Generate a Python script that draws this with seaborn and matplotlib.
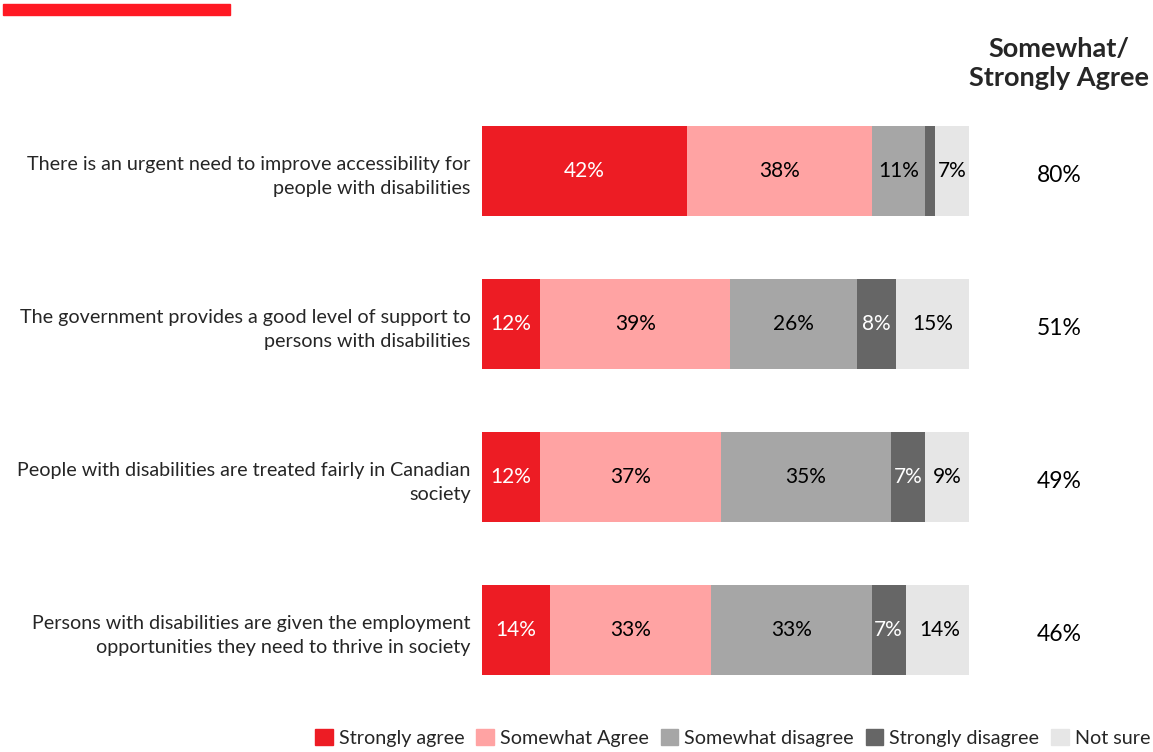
import matplotlib
matplotlib.use("Agg")
import matplotlib.pyplot as plt
import matplotlib.patches as mpatches
import numpy as np
import pandas as pd
import seaborn as sns

statements = [
    "There is an urgent need to improve accessibility for\npeople with disabilities",
    "The government provides a good level of support to\npersons with disabilities",
    "People with disabilities are treated fairly in Canadian\nsociety",
    "Persons with disabilities are given the employment\nopportunities they need to thrive in society",
]
strongly_agree = [42, 12, 12, 14]
somewhat_agree = [38, 39, 37, 33]
somewhat_disagree = [11, 26, 35, 33]
strongly_disagree = [2, 8, 7, 7]
not_sure = [7, 15, 9, 14]
net_agree = [80, 51, 49, 46]

responses = ["Strongly agree", "Somewhat Agree", "Somewhat disagree",
             "Strongly disagree", "Not sure"]
colors = ["#ED1C24", "#FFA3A3", "#A6A6A6", "#666666", "#E6E6E6"]
label_colors = ["white", "black", "black", "white", "black"]

series = [strongly_agree, somewhat_agree, somewhat_disagree,
          strongly_disagree, not_sure]

sns.set_theme(style="white")
plt.rcParams["font.family"] = ["Lato", "DejaVu Sans"]

fig = plt.figure(figsize=(11.53, 7.52), dpi=100)
ax = fig.add_axes([0.418, 0.0605, 0.4224, 0.8138])

df = pd.DataFrame({"statement": statements})
cum = np.zeros(len(statements))
cums = []
for vals in series:
    start = cum.copy()
    cum = cum + np.array(vals)
    cums.append((start, cum.copy()))

# Stack by drawing cumulative totals from the outermost segment inward
for i in reversed(range(len(series))):
    df["total"] = cums[i][1]
    sns.barplot(data=df, x="total", y="statement", orient="h", color=colors[i],
                width=0.59, saturation=1, ax=ax, linewidth=0)

for i, vals in enumerate(series):
    start, end = cums[i]
    for r, v in enumerate(vals):
        if v < 5:
            continue
        ax.text((start[r] + end[r]) / 2, r, f"{v}%", ha="center", va="center",
                fontsize=15, color=label_colors[i])

ax.set_xlim(0, 100)
ax.set_ylim(3.5, -0.5)
ax.set_xlabel("")
ax.set_ylabel("")
ax.set_xticks([])
ax.tick_params(axis="y", length=0, pad=8, labelsize=14.2)
for lbl in ax.get_yticklabels():
    lbl.set_ha("right")
    lbl.set_multialignment("right")
    lbl.set_linespacing(1.5)
for s in ax.spines.values():
    s.set_visible(False)

# Net agreement column
col_x = 1.0 + 90 / 487
for r, v in enumerate(net_agree):
    ax.text(col_x, r + 0.03, f"{v}%", transform=ax.get_yaxis_transform(),
            ha="center", va="center", fontsize=16.5, color="black")
ax.text(col_x, -0.7, "Somewhat/\nStrongly Agree",
        transform=ax.get_yaxis_transform(), ha="center", va="center",
        fontsize=19.5, fontweight="bold", linespacing=1.25)

# Accent bar in the top-left corner
fig.patches.append(mpatches.Rectangle((3 / 1153, 1 - 15 / 752), 227 / 1153, 11 / 752,
                                      transform=fig.transFigure, color="#FF1923",
                                      zorder=5))

handles = [mpatches.Patch(color=c, label=l) for c, l in zip(colors, responses)]
fig.legend(handles=handles, loc="center left", bbox_to_anchor=(315 / 1153, 1 - 738 / 752),
           ncol=5, frameon=False, fontsize=14.2, handlelength=0.9, handleheight=0.9,
           handletextpad=0.3, columnspacing=0.6, borderaxespad=0, borderpad=0)

fig.savefig("out.png", dpi=100)
